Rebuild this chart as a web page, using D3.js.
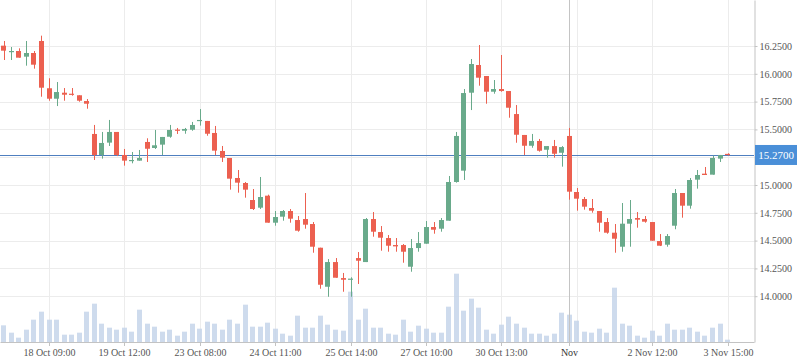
<!DOCTYPE html>
<html>
<head>
<meta charset="utf-8">
<script src="https://cdn.jsdelivr.net/npm/d3@7/dist/d3.min.js"></script>
<style>
  body { margin: 0; background: #fff; }
  #figure { width: 798px; height: 363px; }
  .axis text { font-family: "Liberation Serif", "Times New Roman", serif; font-size: 10px; fill: #555; }
  .axis path, .axis line { stroke: #c3c3c3; }
</style>
</head>
<body>
<div id="figure"></div>
<script>
// candles, one per slot
const open  = [16.253,16.200,16.205,16.154,16.187,16.295,15.870,15.776,15.830,15.821,15.807,15.755,15.459,15.270,15.381,15.477,15.270,15.216,15.219,15.387,
               15.333,15.363,15.434,15.498,15.488,15.497,15.579,15.576,15.468,15.306,15.243,15.063,15.018,14.865,14.796,14.904,14.661,14.715,14.766,14.685,
               14.694,14.649,14.436,14.085,14.307,14.163,14.152,14.343,14.307,14.694,14.577,14.523,14.460,14.460,14.265,14.433,14.472,14.622,14.607,14.679,
               15.027,15.129,15.830,16.079,15.980,15.839,15.863,15.845,15.638,15.450,15.353,15.396,15.317,15.350,15.290,15.441,14.937,14.874,14.793,14.766,
               14.667,14.571,14.445,14.652,14.703,14.694,14.667,14.496,14.463,14.634,14.928,14.814,15.048,15.102,15.093,15.237,15.280];
const high  = [16.295,16.241,16.229,16.295,16.205,16.343,15.960,15.926,15.872,15.872,15.807,15.773,15.540,15.477,15.585,15.477,15.324,15.297,15.315,15.420,
               15.495,15.432,15.540,15.513,15.513,15.567,15.683,15.576,15.531,15.351,15.243,15.135,15.027,14.964,15.072,14.913,14.766,14.775,14.784,14.721,
               14.928,14.667,14.436,14.334,14.343,14.209,14.170,14.397,14.703,14.757,14.631,14.550,14.523,14.469,14.514,14.577,14.676,14.667,14.703,15.081,
               15.477,15.863,16.133,16.259,15.980,15.944,16.169,15.845,15.719,15.450,15.459,15.414,15.350,15.405,15.350,15.513,14.973,14.892,14.874,14.766,
               14.703,14.649,14.838,14.865,14.757,14.721,14.667,14.559,14.559,14.964,14.928,15.063,15.135,15.162,15.264,15.270,15.285];
const low   = [16.124,16.124,16.145,16.073,16.046,15.794,15.758,15.710,15.758,15.803,15.749,15.686,15.225,15.237,15.351,15.260,15.174,15.195,15.219,15.207,
               15.324,15.270,15.425,15.459,15.461,15.488,15.534,15.443,15.270,15.207,14.958,14.931,14.886,14.775,14.784,14.661,14.634,14.679,14.661,14.580,
               14.607,14.391,14.067,13.995,14.166,14.040,13.995,14.110,14.307,14.535,14.409,14.400,14.400,14.301,14.220,14.400,14.472,14.562,14.580,14.679,
               15.021,15.045,15.674,15.893,15.731,15.821,15.839,15.605,15.380,15.270,15.335,15.300,15.246,15.246,15.165,14.868,14.769,14.778,14.751,14.580,
               14.562,14.391,14.400,14.445,14.616,14.661,14.499,14.451,14.445,14.602,14.706,14.787,14.967,15.090,15.093,15.207,15.265];
const close = [16.208,16.205,16.145,16.187,16.082,15.875,15.776,15.836,15.812,15.812,15.758,15.731,15.270,15.378,15.477,15.270,15.219,15.225,15.243,15.326,
               15.357,15.432,15.495,15.492,15.504,15.540,15.585,15.461,15.309,15.246,15.057,15.021,14.958,14.784,14.892,14.661,14.712,14.766,14.697,14.589,
               14.643,14.445,14.103,14.307,14.166,14.148,14.158,14.319,14.694,14.580,14.526,14.454,14.448,14.400,14.433,14.478,14.622,14.598,14.685,15.027,
               15.441,15.827,16.088,15.965,15.839,15.863,15.845,15.695,15.452,15.353,15.396,15.308,15.350,15.281,15.341,14.940,14.877,14.805,14.769,14.661,
               14.571,14.517,14.652,14.694,14.688,14.670,14.499,14.454,14.541,14.928,14.814,15.045,15.090,15.090,15.243,15.270,15.270];
const volume = [500,280,130,370,670,910,670,670,220,220,280,910,1150,550,430,370,430,310,970,550,
                460,310,370,190,310,550,400,610,550,370,670,550,1120,460,460,580,400,250,190,790,
                430,430,790,520,370,340,1510,670,1000,430,430,250,220,670,310,490,400,280,280,1060,
                2050,940,1300,1030,370,250,520,760,550,430,250,250,190,250,880,820,640,310,280,400,
                280,1630,550,490,190,130,340,190,550,370,370,430,310,190,430,550,70];

const priceTicks = [14.0, 14.25, 14.5, 14.75, 15.0, 15.25, 15.5, 15.75, 16.0, 16.25];
const tickSlots  = [6, 16, 26, 36, 46, 56, 66, 75, 86, 96];
const tickLabels = ["18 Oct 09:00","19 Oct 12:00","23 Oct 08:00","24 Oct 11:00","25 Oct 14:00",
                    "27 Oct 10:00","30 Oct 13:00","Nov","2 Nov 12:00","3 Nov 15:00"];
const gridSlots  = [6, 16, 26, 36, 46, 56, 66, 76, 86, 96];
const monthSlot  = 75;
const lastPrice  = 15.27;

document.addEventListener("DOMContentLoaded", ()=>{
  const W = 798, H = 363;
  const plotW = 754, plotH = 342;
  const nSlots = 100;

  const x_scale = d3.scaleBand().domain(d3.range(nSlots)).range([0, plotW]).paddingInner(0);
  const step = x_scale.bandwidth();
  const cx = i => x_scale(i) + step / 2;

  const y_scale = d3.scaleLinear().domain([13.5881, 16.6637]).range([plotH, 0]);
  const v_scale = d3.scaleLinear().domain([0, 3000]).range([plotH, plotH - 100]);

  const svg = d3.select("#figure").append("svg")
                .attr("width", W)
                .attr("height", H);

  // grid
  svg.append("g").selectAll("line").data(priceTicks).join("line")
     .attr("x1", 0).attr("x2", plotW)
     .attr("y1", d => Math.round(y_scale(d)) + 0.5).attr("y2", d => Math.round(y_scale(d)) + 0.5)
     .attr("stroke", "#ececec");
  svg.append("g").selectAll("line").data(gridSlots).join("line")
     .attr("x1", d => Math.round(cx(d)) + 0.5).attr("x2", d => Math.round(cx(d)) + 0.5)
     .attr("y1", 0).attr("y2", plotH)
     .attr("stroke", "#ececec");

  const candles = d3.range(open.length).map(i => ({i, o: open[i], h: high[i], l: low[i], c: close[i], v: volume[i]}));

  // volume
  const bw = 5;
  svg.append("g").selectAll("rect").data(candles).join("rect")
     .attr("x", d => Math.round(cx(d.i) - bw / 2))
     .attr("width", bw)
     .attr("y", d => v_scale(d.v))
     .attr("height", d => plotH - v_scale(d.v))
     .attr("fill", "#c6d5ea")
     .attr("opacity", 0.85);

  // month separator
  svg.append("line")
     .attr("x1", Math.round(cx(monthSlot)) + 0.5).attr("x2", Math.round(cx(monthSlot)) + 0.5)
     .attr("y1", 0).attr("y2", plotH)
     .attr("stroke", "#c4c4c4");

  // last price line
  svg.append("line")
     .attr("x1", 0).attr("x2", plotW)
     .attr("y1", Math.round(y_scale(lastPrice)) + 0.5).attr("y2", Math.round(y_scale(lastPrice)) + 0.5)
     .attr("stroke", "#4f7fbf");

  // candles
  const up = "#69aa8b", down = "#ec6050";
  const g = svg.append("g").selectAll("g").data(candles).join("g");
  g.append("line")
   .attr("x1", d => Math.round(cx(d.i)) + 0.5).attr("x2", d => Math.round(cx(d.i)) + 0.5)
   .attr("y1", d => y_scale(d.h)).attr("y2", d => y_scale(d.l))
   .attr("stroke", d => d.c >= d.o ? up : down);
  g.append("rect")
   .attr("x", d => Math.round(cx(d.i) - bw / 2))
   .attr("width", bw)
   .attr("y", d => y_scale(Math.max(d.o, d.c)))
   .attr("height", d => Math.max(1.2, Math.abs(y_scale(d.o) - y_scale(d.c))))
   .attr("fill", d => d.c >= d.o ? up : down);

  // axes
  svg.append("g")
     .attr("class", "x axis")
     .attr("transform", "translate(0," + plotH + ")")
     .call(d3.axisBottom(x_scale)
             .tickValues(tickSlots)
             .tickFormat((d, i) => tickLabels[i])
             .tickSize(4).tickPadding(3).tickSizeOuter(0))
     .call(a => a.selectAll(".tick").attr("transform", d => "translate(" + (Math.round(cx(d)) + 0.5) + ",0)"))
     .call(a => a.selectAll(".tick text").filter(d => d === monthSlot).style("fill", "#333"));

  svg.append("g")
     .attr("class", "y axis")
     .attr("transform", "translate(" + (plotW + 0.5) + ",0)")
     .call(d3.axisRight(y_scale)
             .tickValues(priceTicks)
             .tickFormat(d3.format(".4f"))
             .tickSize(3).tickPadding(2).tickSizeOuter(0))
     // the tag below covers this label
     .call(a => a.selectAll(".tick text").filter(d => Math.abs(d - lastPrice) < 0.1).remove());

  // last price tag
  const ty = y_scale(lastPrice);
  svg.append("rect")
     .attr("x", plotW + 1).attr("y", ty - 10)
     .attr("width", 42).attr("height", 20)
     .attr("fill", "#4a8fd8");
  svg.append("text")
     .attr("x", plotW + 22).attr("y", ty)
     .attr("dy", "0.35em")
     .attr("text-anchor", "middle")
     .style("font-family", "'Liberation Serif', 'Times New Roman', serif")
     .style("font-size", "11px")
     .attr("fill", "#fff")
     .text(d3.format(".4f")(lastPrice));
});
</script>
</body>
</html>
